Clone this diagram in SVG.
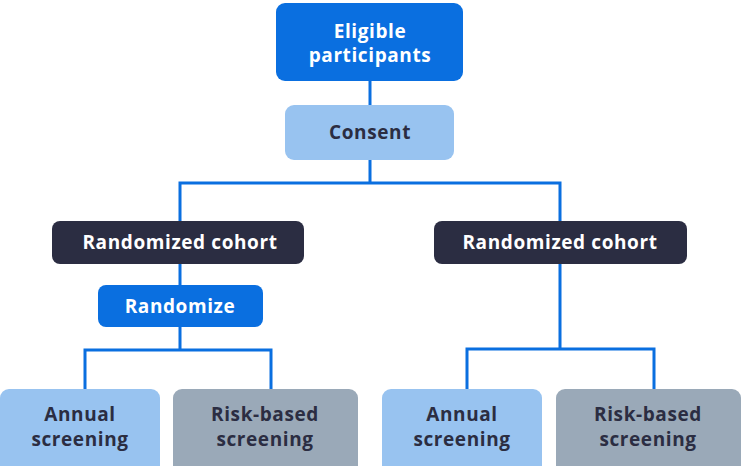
<svg xmlns="http://www.w3.org/2000/svg" width="741" height="466" viewBox="0 0 741 466">
<style>
.t{font-family:"Open Sans","Liberation Sans",sans-serif;font-weight:700;font-size:19px;text-anchor:middle;letter-spacing:0.6px}
.w{fill:#ffffff}
.d{fill:#2B2D42}
.blue{fill:#0A6FE0}
.lb{fill:#98C3F0}
.dk{fill:#2B2D42}
.gr{fill:#9AA9B8}
.c{fill:none;stroke:#0A6FE0;stroke-width:3}
</style>
<g id="connectors">
<path class="c" d="M370 80V105"/>
<path class="c" d="M370 160V183M180 221V183H560V221"/>
<path class="c" d="M180 264V285"/>
<path class="c" d="M180 327V350M85 389V350H271V389"/>
<path class="c" d="M560 264V349M467 389V349H654V389"/>
</g>
<g id="eligible"><rect class="blue" x="276" y="3" width="187" height="78" rx="9"/><text class="t w" x="370" y="38">Eligible</text><text class="t w" x="370" y="62">participants</text></g>
<g id="consent"><rect class="lb" x="285" y="105" width="169" height="55" rx="9"/><text class="t d" x="370" y="139">Consent</text></g>
<g id="cohort-left"><rect class="dk" x="52" y="221" width="252" height="43" rx="8"/><text class="t w" x="180" y="249">Randomized cohort</text></g>
<g id="randomize"><rect class="blue" x="98" y="285" width="165" height="42" rx="8"/><text class="t w" x="180" y="313">Randomize</text></g>
<g id="cohort-right"><rect class="dk" x="434" y="221" width="253" height="43" rx="8"/><text class="t w" x="560" y="249">Randomized cohort</text></g>
<g id="annual-left"><rect class="lb" x="0" y="389" width="160" height="90" rx="9"/><text class="t d" x="80" y="421">Annual</text><text class="t d" x="80" y="446">screening</text></g>
<g id="risk-left"><rect class="gr" x="173" y="389" width="185" height="90" rx="9"/><text class="t d" x="265" y="421">Risk-based</text><text class="t d" x="265" y="446">screening</text></g>
<g id="annual-right"><rect class="lb" x="382" y="389" width="160" height="90" rx="9"/><text class="t d" x="462" y="421">Annual</text><text class="t d" x="462" y="446">screening</text></g>
<g id="risk-right"><rect class="gr" x="556" y="389" width="185" height="90" rx="9"/><text class="t d" x="648" y="421">Risk-based</text><text class="t d" x="648" y="446">screening</text></g>
</svg>
